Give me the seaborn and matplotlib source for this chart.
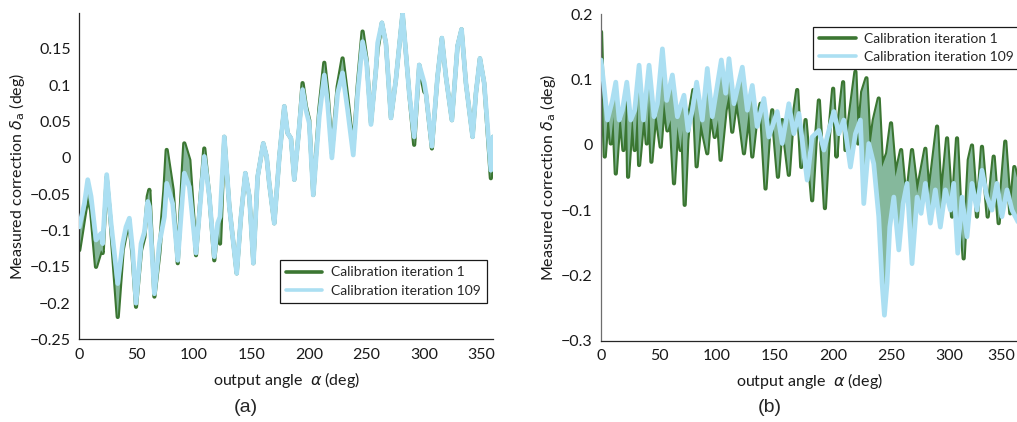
import numpy as np
import pandas as pd
import matplotlib
matplotlib.use("Agg")
import matplotlib.pyplot as plt
from matplotlib.lines import Line2D
from matplotlib.ticker import FuncFormatter
from matplotlib.transforms import ScaledTranslation
import seaborn as sns

# ---------------- data ----------------
# panel (a): common angle grid, iteration 1 and iteration 109
a_angle = [0, 4.5, 7.4, 10.3, 14.6, 19.0, 20.4, 23.9, 27.7, 33.5, 37.8, 40.7, 43.6, 46.5,
           49.4, 53.8, 56.7, 59.6, 61.0, 65.4, 69.7, 74.1, 76.1, 81.3, 85.7, 91.4, 95.8,
           101.6, 108.8, 113.2, 117.5, 120.4, 122.5, 126.2, 130.6, 137.0, 140.7, 144.5,
           148.0, 151.5, 155.2, 160.1, 163.0, 165.3, 169.7, 174.1, 178.4, 181.3, 184.2,
           187.1, 191.4, 194.3, 197.2, 200.1, 203.6, 208.8, 213.2, 216.1, 219.8, 224.8,
           229.1, 233.5, 238.4, 242.2, 246.5, 250.0, 253.8, 258.1, 259.6, 263.3, 266.8,
           271.2, 275.5, 281.3, 284.2, 287.1, 291.4, 295.8, 300.2, 301.6, 306.8, 311.7,
           315.5, 319.0, 324.2, 329.1, 332.6, 336.4, 342.2, 345.1, 348.6, 352.3, 358.1, 360]
a_iter1 = [-0.127, -0.081, -0.053, -0.072, -0.150, -0.127, -0.131, -0.026, -0.095, -0.219,
           -0.127, -0.104, -0.090, -0.136, -0.205, -0.127, -0.109, -0.053, -0.044, -0.191,
           -0.131, -0.044, 0.011, -0.044, -0.145, 0.020, -0.003, -0.134, 0.013, -0.053,
           -0.141, -0.095, -0.118, 0.029, -0.067, -0.159, -0.081, -0.021, -0.053, -0.145,
           -0.026, 0.020, 0.002, -0.035, -0.090, 0.002, 0.071, 0.034, 0.027, -0.030, 0.043,
           0.103, 0.071, 0.052, -0.051, 0.066, 0.131, 0.089, 0.006, 0.098, 0.137, 0.080,
           0.011, 0.098, 0.174, 0.135, 0.048, 0.121, 0.150, 0.186, 0.158, 0.055, 0.108,
           0.199, 0.144, 0.089, 0.018, 0.128, 0.091, 0.089, 0.013, 0.112, 0.165, 0.112,
           0.052, 0.154, 0.177, 0.103, 0.029, 0.089, 0.137, 0.103, -0.028, 0.029]
a_iter109 = [-0.095, -0.063, -0.030, -0.053, -0.113, -0.104, -0.118, -0.023, -0.090, -0.173,
             -0.118, -0.095, -0.083, -0.127, -0.200, -0.118, -0.102, -0.060, -0.067, -0.187,
             -0.118, -0.081, -0.035, -0.063, -0.141, -0.021, -0.040, -0.131, 0.002, -0.053,
             -0.136, -0.090, -0.081, 0.029, -0.067, -0.159, -0.081, -0.021, -0.053, -0.145,
             -0.026, 0.020, 0.002, -0.035, -0.090, 0.002, 0.071, 0.034, 0.027, -0.030, 0.043,
             0.094, 0.066, 0.048, -0.051, 0.057, 0.114, 0.075, 0.000, 0.089, 0.117, 0.066,
             0.004, 0.089, 0.160, 0.131, 0.046, 0.121, 0.158, 0.186, 0.158, 0.055, 0.108,
             0.199, 0.144, 0.089, 0.029, 0.128, 0.103, 0.089, 0.016, 0.112, 0.165, 0.112,
             0.052, 0.154, 0.177, 0.103, 0.029, 0.089, 0.137, 0.103, -0.017, 0.029]

# panel (b): iteration 1
b1_angle = [0, 0.9, 3.2, 6.1, 8.4, 10.7, 12.7, 16.4, 19.3, 22.2, 23.3, 27.0, 29.0, 31.4,
            32.8, 37.1, 39.4, 41.4, 43.4, 47.1, 51.4, 54.3, 57.2, 60.0, 62.9, 65.8, 68.6,
            70.1, 72.1, 74.4, 76.7, 79.6, 82.4, 85.9, 88.7, 91.6, 94.5, 98.0, 100.8, 103.1,
            107.4, 110.3, 113.1, 116.9, 120.3, 123.2, 127.5, 130.4, 133.2, 137.5, 141.8,
            144.7, 147.6, 152.5, 156.2, 161.9, 164.8, 169.1, 172.6, 176.3, 182.0, 184.9,
            187.8, 193.0, 196.4, 200.1, 203.0, 205.0, 208.7, 210.7, 215.0, 219.3, 221.6,
            225.1, 228.8, 231.7, 235.1, 239.4, 242.3, 246.6, 250.0, 253.8, 258.7, 262.4,
            265.3, 268.1, 272.5, 279.6, 282.5, 289.7, 293.1, 298.3, 302.6, 306.9, 309.8,
            312.6, 317.0, 319.8, 324.1, 328.4, 333.3, 338.5, 342.8, 348.5, 352.8, 356.3, 360]
b_iter1 = [0.173, 0.114, -0.018, 0.053, 0.002, 0.043, -0.044, 0.053, -0.008, 0.079, -0.049,
           0.048, -0.008, 0.063, -0.031, 0.053, 0.002, 0.068, -0.026, 0.053, -0.003, 0.068,
           0.022, 0.038, -0.059, 0.028, -0.008, 0.022, -0.092, 0.007, 0.053, 0.084, -0.033,
           0.038, 0.012, -0.013, 0.053, 0.012, 0.038, -0.023, 0.053, 0.079, 0.020, 0.073,
           0.028, -0.013, 0.053, -0.018, 0.028, 0.063, -0.067, 0.012, 0.053, -0.049, 0.038,
           -0.046, 0.028, 0.084, -0.034, 0.038, -0.085, 0.002, 0.068, -0.097, 0.012, 0.086,
           -0.018, 0.038, 0.096, -0.008, 0.053, 0.112, 0.002, 0.081, 0.102, -0.008, 0.038,
           0.071, -0.034, -0.013, 0.033, -0.049, -0.008, -0.080, -0.054, -0.008, -0.074,
           -0.006, -0.080, 0.028, -0.090, 0.010, -0.110, 0.010, -0.100, -0.174, -0.023,
           -0.001, -0.110, -0.003, -0.110, -0.018, -0.120, 0.005, -0.105, -0.034, -0.060]

# panel (b): iteration 109
b109_angle = [0, 2.6, 5.5, 9.8, 12.7, 15.6, 18.4, 22.2, 25.6, 29.0, 32.8, 36.5, 41.4, 45.7,
              48.6, 52.9, 56.6, 61.5, 65.8, 71.5, 75.0, 78.7, 82.4, 87.3, 91.6, 95.9, 103.7,
              107.4, 110.3, 114.6, 121.8, 126.1, 130.4, 134.6, 140.4, 144.7, 151.9, 156.2,
              161.9, 166.2, 170.6, 177.7, 182.0, 187.8, 192.1, 196.4, 200.7, 205.0, 209.3,
              215.0, 219.3, 223.6, 226.5, 230.8, 235.1, 239.4, 242.3, 244.3, 246.6, 248.9,
              252.4, 256.7, 260.4, 263.8, 268.1, 272.5, 275.9, 279.6, 283.9, 288.2, 292.5,
              296.9, 301.2, 304.0, 307.5, 311.2, 315.5, 319.8, 324.1, 328.4, 332.7, 337.0,
              341.3, 345.6, 350.0, 354.3, 360]
b_iter109 = [0.130, 0.089, 0.038, 0.068, 0.096, 0.038, 0.053, 0.096, 0.038, 0.053, 0.122,
             0.038, 0.122, 0.043, 0.063, 0.147, 0.068, 0.107, 0.043, 0.076, 0.022, 0.053,
             0.096, 0.038, 0.117, 0.043, 0.130, 0.079, 0.132, 0.063, 0.119, 0.053, 0.091,
             0.028, 0.071, 0.012, 0.051, 0.002, 0.063, 0.017, 0.048, -0.054, 0.012, 0.022,
             -0.008, 0.022, 0.051, 0.017, 0.038, -0.034, 0.017, 0.038, -0.090, 0.002, -0.029,
             -0.110, -0.212, -0.261, -0.212, -0.126, -0.080, -0.161, -0.090, -0.059, -0.182,
             -0.080, -0.105, -0.059, -0.120, -0.069, -0.126, -0.069, -0.100, -0.059, -0.166,
             -0.080, -0.141, -0.059, -0.100, -0.039, -0.080, -0.100, -0.059, -0.110, -0.069,
             -0.100, -0.120]

legend_labels = ["Calibration iteration 1", "Calibration iteration 109"]
x_label = r"output angle  $\alpha$ (deg)"
y_label = r"Measured correction $\delta_{\mathrm{a}}$ (deg)"
a_yticks = [-0.25, -0.2, -0.15, -0.1, -0.05, 0, 0.05, 0.1, 0.15]
b_yticks = [-0.3, -0.2, -0.1, 0, 0.1, 0.2]
xticks = [0, 50, 100, 150, 200, 250, 300, 350]

# ---------------- style ----------------
sns.set_style("white")
plt.rcParams["font.family"] = ["Lato", "DejaVu Sans"]
plt.rcParams["mathtext.fontset"] = "dejavusans"
GREEN = "#3b7632"
BLUE = "#abdff2"
BAND = "#85b89c"
FS = 11.5

fig = plt.figure(figsize=(10.17, 4.22), dpi=100)
ax_a = fig.add_axes([0.0779, 0.1955, 0.4069, 0.7737])
ax_b = fig.add_axes([0.5910, 0.1927, 0.4106, 0.7735])

fmt = FuncFormatter(lambda v, p: ("{:g}".format(round(v, 4))).replace("-", "\u2212"))
line_kw = dict(estimator=None, sort=False, solid_joinstyle="round", solid_capstyle="round")


def draw(ax, x1, y1, x2, y2, ylim, yticks, leg_loc, leg_anchor, spine_left):
    d1 = pd.DataFrame({"angle": x1, "val": y1})
    d2 = pd.DataFrame({"angle": x2, "val": y2})
    sns.lineplot(data=d1, x="angle", y="val", ax=ax, color=GREEN, lw=3.0, zorder=2, **line_kw)
    ax.fill(np.r_[x1, x2[::-1]], np.r_[y1, y2[::-1]], color=BAND, lw=0, zorder=2.5)
    sns.lineplot(data=d2, x="angle", y="val", ax=ax, color=BLUE, lw=3.4, zorder=3, **line_kw)
    ax.set_xlim(0, 360)
    ax.set_ylim(*ylim)
    ax.set_xticks(xticks)
    ax.set_yticks(yticks)
    ax.yaxis.set_major_formatter(fmt)
    ax.xaxis.set_major_formatter(fmt)
    for s in ["top", "right"]:
        ax.spines[s].set_visible(False)
    ax.spines["bottom"].set_color("#262626")
    ax.spines["left"].set_color(spine_left)
    for s in ["left", "bottom"]:
        ax.spines[s].set_linewidth(0.9)
    ax.tick_params(direction="in", length=4, width=0.8, colors="#262626",
                   labelsize=FS, pad=6, labelcolor="#1a1a1a")
    ax.set_xlabel(x_label, fontsize=FS, color="#1a1a1a", labelpad=6)
    ax.set_ylabel(y_label, fontsize=FS, color="#1a1a1a", labelpad=2)
    handles = [Line2D([], [], color=GREEN, lw=2.6), Line2D([], [], color=BLUE, lw=2.6)]
    leg = ax.legend(handles, legend_labels, loc=leg_loc, bbox_to_anchor=leg_anchor,
                    borderaxespad=0, fancybox=False, framealpha=1, edgecolor="#1a1a1a",
                    fontsize=10, handlelength=2.6, handletextpad=0.6, borderpad=0.45,
                    labelspacing=0.45)
    leg.get_frame().set_linewidth(0.9)


draw(ax_a, np.array(a_angle), np.array(a_iter1), np.array(a_angle), np.array(a_iter109),
     (-0.25, 0.1995), a_yticks, "lower left", (0.485, 0.112), "#262626")
draw(ax_b, np.array(b1_angle), np.array(b_iter1), np.array(b109_angle), np.array(b_iter109),
     (-0.3, 0.2), b_yticks, "upper left", (0.508, 0.962), "#6e6e6e")

# keep the last x tick label of panel (b) inside the figure
last = ax_b.get_xticklabels()[-1]
last.set_transform(last.get_transform() + ScaledTranslation(-4 / 72, 0, fig.dpi_scale_trans))

fig.text(246 / 1017, 1 - 407 / 422, "(a)", ha="center", va="center", fontsize=14,
         family=["Liberation Sans", "DejaVu Sans"])
fig.text(770 / 1017, 1 - 407 / 422, "(b)", ha="center", va="center", fontsize=14,
         family=["Liberation Sans", "DejaVu Sans"])

fig.savefig("out.png", dpi=100)
